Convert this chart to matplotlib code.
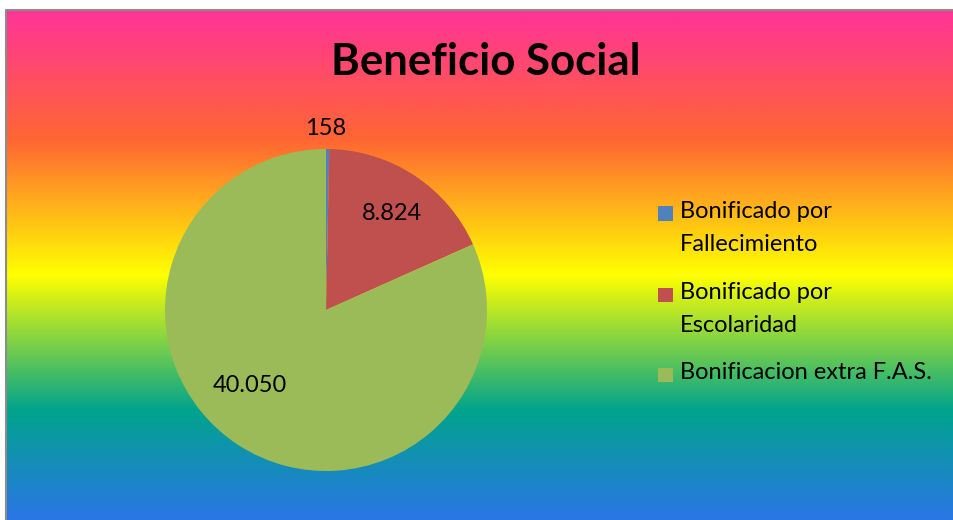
import matplotlib
matplotlib.use("Agg")
import matplotlib.pyplot as plt
import numpy as np
from matplotlib.colors import LinearSegmentedColormap
from matplotlib.lines import Line2D
from matplotlib.patches import Rectangle

plt.rcParams["font.family"] = ["Lato", "DejaVu Sans"]

# Chart data
labels = ["Bonificado por\nFallecimiento", "Bonificado por\nEscolaridad", "Bonificacion extra F.A.S."]
values = [158, 8824, 40050]
value_text = ["158", "8.824", "40.050"]
colors = ["#4F81BD", "#C0504D", "#9BBB59"]

W, H = 954, 520
fig = plt.figure(figsize=(W / 100, H / 100), dpi=100)
fig.patch.set_facecolor("white")

# Rainbow gradient background of the chart area (runs off the right and bottom edges)
bg = fig.add_axes([7 / W, -0.02, 1.02, 1.02 - 10 / H], zorder=0)
stops = [
    (0.00, "#FF3399"),
    (0.25, "#FF6633"),
    (0.51, "#FFFF00"),
    (0.77, "#00A48C"),
    (1.00, "#2E72EE"),
]
cmap = LinearSegmentedColormap.from_list("rainbow_bg", stops)
grad = np.linspace(0, 1, 512).reshape(-1, 1)
bg.imshow(grad, aspect="auto", cmap=cmap, extent=[0, 1, 0, 1], origin="upper")
bg.set_xlim(0, 1)
bg.set_ylim(0, 1)
bg.axis("off")

# Grey border only on the left and top edges
edge_x = 6.5 / W
edge_y = 1 - 9.5 / H
fig.add_artist(Line2D([edge_x, edge_x, 1.05], [-0.05, edge_y, edge_y], transform=fig.transFigure,
                      color="#8C8C8C", linewidth=1.5, zorder=1))

# Pie
r = 161
cx, cy = 326, 310
ax = fig.add_axes([(cx - r) / W, (H - cy - r) / H, 2 * r / W, 2 * r / H], zorder=2)
ax.set_facecolor("none")
wedges, _ = ax.pie(values, colors=colors, startangle=90, counterclock=False,
                   radius=1.0, wedgeprops=dict(linewidth=0))
ax.set_xlim(-1, 1)
ax.set_ylim(-1, 1)
ax.set_aspect("equal")

# Data labels
label_pos = [(0.0, 1.13), (0.41, 0.6), (-0.47, -0.47)]
for (x, y), t in zip(label_pos, value_text):
    ax.text(x, y, t, ha="center", va="center", fontsize=17, color="black")

# Title
fig.text(486 / W, 1 - 62 / H, "Beneficio Social", ha="center", va="center",
         fontsize=31.5, fontweight="bold", color="black")

# Legend (placed by hand so the marker sits on the first text line)
leg_top = [213.5, 295, 375]
for lab, col, yc in zip(labels, colors, leg_top):
    fig.add_artist(Rectangle((658 / W, 1 - (yc + 7) / H), 14.5 / W, 14.5 / H,
                             transform=fig.transFigure, facecolor=col,
                             edgecolor="none", zorder=3))
    fig.text(680 / W, 1 - (yc - 13) / H, lab, ha="left", va="top",
             fontsize=17, linespacing=1.72, color="black", zorder=3)

fig.savefig("out.png", dpi=100)
